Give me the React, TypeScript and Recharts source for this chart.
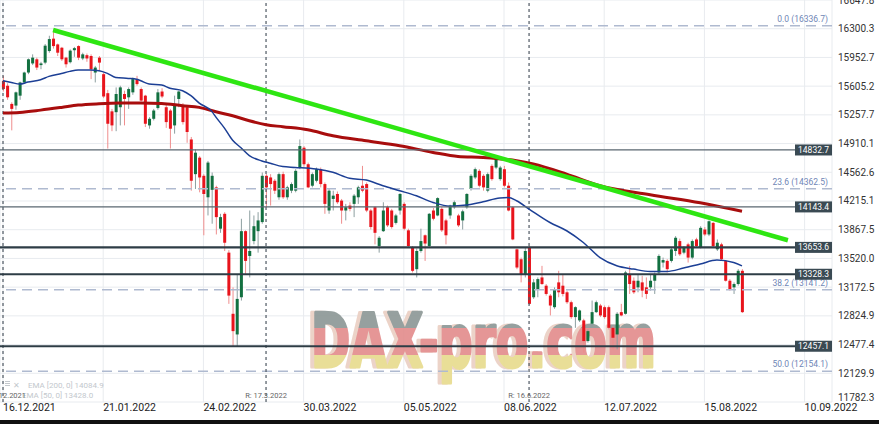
import React from 'react';
import { ComposedChart, Bar, Line, XAxis, YAxis, CartesianGrid, ReferenceLine, Customized } from 'recharts';

// ---- candles (trading-day index 0 = 16.12.2021) ----
const opens = [
  15670, 15610, 15390, 15370, 15490, 15650, 15770, 15880, 15930, 15860,
  15890, 16030, 16180, 16110, 16070, 15950, 15895, 16040, 16090, 15940,
  15980, 15970, 15770, 15950, 15750, 15520, 15300, 15290, 15350, 15510,
  15470, 15530, 15690, 15570, 15490, 15130, 15210, 15340, 15540, 15350,
  15310, 15130, 15450, 15370, 15350, 14960, 14540, 14740, 14520, 14260,
  14350, 14380, 13880, 14060, 13590, 12850, 12600, 13050, 13850, 13550,
  13730, 13850, 13960, 14520, 14500, 14460, 14260, 14540, 14260, 14340,
  14340, 14620, 14860, 14660, 14400, 14460, 14600, 14420, 14100, 14240,
  14300, 14220, 14100, 14160, 14180, 14260, 14400, 14420, 14100, 14140,
  13670, 13850, 14140, 14100, 13950, 14100, 14180, 13860, 13650, 13390,
  13610, 13800, 13670, 14100, 14040, 14120, 13980, 14040, 14140, 14040,
  13980, 14140, 14360, 14500, 14580, 14520, 14340, 14640, 14620, 14480,
  14600, 14400, 14140, 13630, 13510, 13330, 13650, 13050, 13150, 13290,
  13190, 13070, 12930, 13230, 13190, 13110, 12990, 12810, 12770, 12770,
  12520, 12730, 12870, 12950, 12930, 12930, 12680, 12600, 12870, 12850,
  13330, 13250, 13170, 13230, 13170, 13170, 13250, 13350, 13470, 13490,
  13490, 13610, 13730, 13590, 13690, 13530, 13750, 13650, 13870, 13810,
  13950, 13630, 13690, 13490, 13250, 13170, 13210, 13370,
];
const highs = [
  15730, 15640, 15410, 15540, 15660, 15780, 15940, 15990, 15950, 15900,
  16115, 16215, 16290, 16120, 16080, 15960, 16050, 16080, 16100, 16010,
  16000, 15990, 15850, 15970, 15770, 15560, 15330, 15590, 15610, 15550,
  15590, 15710, 15730, 15590, 15500, 15230, 15330, 15570, 15580, 15380,
  15330, 15490, 15550, 15400, 15370, 14990, 14840, 14760, 14540, 14700,
  14560, 14400, 14060, 14080, 13620, 13170, 13330, 14000, 13860, 14100,
  14040, 14080, 14560, 14540, 14540, 14480, 14560, 14570, 14400, 14440,
  14600, 14960, 14880, 14680, 14560, 14620, 14620, 14440, 14360, 14340,
  14330, 14240, 14180, 14200, 14300, 14400, 14640, 14440, 14120, 14150,
  13790, 14200, 14160, 14120, 14060, 14310, 14200, 13880, 13670, 13640,
  13880, 13810, 14070, 14130, 14260, 14140, 14000, 14170, 14220, 14060,
  14110, 14310, 14540, 14620, 14600, 14540, 14560, 14660, 14770, 14640,
  14640, 14440, 14150, 13640, 13530, 13650, 13670, 13270, 13290, 13430,
  13210, 13090, 13170, 13370, 13330, 13130, 13010, 12940, 12900, 12790,
  12660, 13010, 13010, 12970, 12950, 12950, 12700, 12870, 12970, 13370,
  13430, 13290, 13330, 13310, 13290, 13330, 13350, 13570, 13530, 13510,
  13650, 13790, 13760, 13670, 13710, 13750, 13770, 13910, 13900, 13980,
  13960, 13750, 13710, 13500, 13270, 13230, 13390, 13390,
];
const lows = [
  15540, 15440, 15070, 15320, 15440, 15630, 15750, 15860, 15800, 15810,
  15870, 16010, 16060, 15970, 15910, 15830, 15880, 15960, 15920, 15920,
  15900, 15690, 15650, 15790, 15460, 14850, 15060, 15060, 15130, 15130,
  15330, 15500, 15610, 15420, 15110, 15090, 15190, 15320, 15460, 15100,
  14850, 15030, 15350, 15140, 14920, 14340, 14360, 14320, 13800, 14040,
  13940, 13810, 13830, 13610, 12970, 12460, 12460, 13010, 13330, 13290,
  13690, 13590, 13940, 14140, 14160, 14300, 14230, 14240, 14230, 14310,
  14320, 14600, 14630, 14370, 14380, 14440, 14380, 14060, 14060, 14100,
  14180, 13940, 13980, 14090, 14020, 14180, 14320, 14080, 13870, 13690,
  13590, 13840, 13900, 13880, 13930, 14050, 13860, 13650, 13350, 13290,
  13590, 13490, 13660, 13980, 14030, 13840, 13690, 14000, 14120, 13900,
  13870, 14120, 14340, 14480, 14380, 14340, 14320, 14460, 14600, 14460,
  14380, 14090, 13740, 13390, 13230, 13290, 12960, 13030, 13050, 13200,
  13070, 12830, 12910, 13050, 13060, 12970, 12790, 12680, 12750, 12380,
  12500, 12700, 12860, 12810, 12790, 12660, 12420, 12420, 12820, 12840,
  13090, 13090, 13110, 13050, 13030, 13130, 13090, 13330, 13410, 13350,
  13470, 13550, 13550, 13570, 13470, 13510, 13650, 13640, 13790, 13790,
  13650, 13610, 13490, 13240, 13130, 13090, 13190, 12860,
];
const closes = [
  15570, 15470, 15330, 15530, 15650, 15770, 15930, 15950, 15830, 15880,
  16095, 16175, 16090, 16010, 15930, 15870, 16035, 16065, 15950, 15990,
  15940, 15810, 15830, 15890, 15480, 15150, 15130, 15510, 15590, 15450,
  15570, 15690, 15630, 15430, 15150, 15210, 15310, 15530, 15480, 15170,
  15090, 15390, 15540, 15170, 15050, 14460, 14800, 14500, 14300, 14680,
  14520, 14020, 14020, 13710, 13070, 12640, 13030, 13850, 13490, 13610,
  13910, 13980, 14520, 14380, 14420, 14340, 14540, 14260, 14380, 14420,
  14580, 14880, 14660, 14380, 14540, 14600, 14420, 14180, 14340, 14280,
  14200, 14100, 14140, 14120, 14280, 14380, 14340, 14100, 13900, 13830,
  13770, 14100, 13920, 13900, 14040, 14300, 13880, 13670, 13370, 13610,
  13730, 13700, 14060, 14000, 14250, 13860, 13800, 14160, 14200, 13920,
  14090, 14300, 14520, 14600, 14400, 14380, 14540, 14480, 14760, 14620,
  14400, 14100, 13750, 13410, 13330, 13610, 12970, 13230, 13270, 13210,
  13090, 12950, 13150, 13110, 13090, 12990, 12810, 12930, 12890, 12520,
  12640, 12870, 12990, 12830, 12810, 12680, 12560, 12850, 12830, 13350,
  13210, 13110, 13250, 13130, 13090, 13250, 13330, 13550, 13500, 13390,
  13630, 13770, 13570, 13650, 13530, 13730, 13670, 13890, 13810, 13970,
  13670, 13710, 13510, 13250, 13150, 13210, 13370, 12870,
];

// ---- moving averages ----
const ema50Index = [0, 2, 4, 6, 9, 11, 14, 16, 18, 21, 23, 25, 27, 30, 32, 33, 35, 38, 40, 43, 45, 47, 50, 51, 53, 55, 57, 59, 62, 64, 67, 70, 75, 79, 83, 87, 91, 95, 99, 103, 107, 111, 115, 119, 121, 123, 126, 131, 135, 139, 143, 147, 151, 155, 159, 163, 167, 171, 175, 177];
const ema50Values = [15671, 15650, 15630, 15655, 15683, 15723, 15759, 15784, 15800, 15800, 15792, 15760, 15711, 15699, 15688, 15670, 15630, 15618, 15580, 15550, 15490, 15400, 15300, 15230, 15100, 14950, 14860, 14765, 14700, 14672, 14632, 14622, 14602, 14562, 14490, 14468, 14400, 14340, 14278, 14198, 14152, 14166, 14206, 14251, 14256, 14218, 14118, 13955, 13855, 13713, 13530, 13431, 13391, 13362, 13362, 13403, 13452, 13500, 13470, 13430];
const ema200Index = [0, 4, 9, 14, 18, 23, 28, 33, 38, 43, 47, 51, 55, 59, 63, 67, 73, 79, 87, 95, 103, 109, 115, 123, 127, 135, 143, 155, 167, 177];
const ema200Values = [15279, 15287, 15315, 15348, 15376, 15392, 15400, 15400, 15396, 15368, 15348, 15295, 15247, 15186, 15138, 15114, 15077, 15005, 14944, 14884, 14803, 14754, 14742, 14702, 14662, 14540, 14400, 14290, 14193, 14090];

// ---- axes ----
const tickIndex = [0, 24, 48, 72, 96, 120, 144, 168, 192];
const tickLabels = ['16.12.2021', '21.01.2022', '24.02.2022', '30.03.2022', '05.05.2022', '08.06.2022', '12.07.2022', '15.08.2022', '10.09.2022'];
const yTicks = [16647.8, 16300.3, 15952.7, 15605.2, 15257.7, 14910.1, 14562.6, 14215.1, 13867.5, 13520.0, 13172.5, 12824.9, 12477.4, 12129.9, 11782.3];
const xDomain = [-0.72, 198.56];

// ---- annotations ----
const levelValues = [14832.7, 14143.4, 13653.6, 13328.3, 12457.1];
const levelStrong = [false, false, true, true, true];
const fibValues = [16336.7, 14362.5, 13141.2, 12154.1];
const fibLabels = ['0.0 (16336.7)', '23.6 (14362.5)', '38.2 (13141.2)', '50.0 (12154.1)'];
const markerIndex = [0, 63, 126];
const markerLabels = ['R: 16.12.2021', 'R: 17.3.2022', 'R: 16.6.2022'];
const trendIndex = [12, 188];
const trendValues = [16285, 13740];
const legendLabels = ['EMA [200, 0] 14084.9', 'EMA [50, 0] 13428.0'];
const watermarkText = 'DAX-pro.com';

const candles = opens.map((o, i) => ({ i, open: o, high: highs[i], low: lows[i], close: closes[i] }));
const ema50Data = ema50Index.map((i, k) => ({ i, v: ema50Values[k] }));
const ema200Data = ema200Index.map((i, k) => ({ i, v: ema200Values[k] }));

const FONT = 'Roboto, "Noto Sans", "DejaVu Sans", sans-serif';
const WM_FONT = '"Liberation Sans Narrow", "DejaVu Sans Condensed", "Liberation Sans", sans-serif';
const UP = '#127040';
const DOWN = '#e8141c';
const WICK_UP = '#8d9fa0';
const WICK_DOWN = '#ef8d8d';

function Candle(props: any) {
  const { x, y, width, height, payload } = props;
  if (x == null || y == null || !payload) return null;
  const { open, high, low, close } = payload;
  const top = Math.min(y, y + height);
  const h = Math.abs(height);
  const k = high > low ? h / (high - low) : 0;
  const cx = x + width / 2;
  const yO = top + (high - open) * k;
  const yC = top + (high - close) * k;
  const up = close >= open;
  const bTop = Math.min(yO, yC);
  const bH = Math.max(1, Math.abs(yC - yO));
  return (
    <g>
      <line x1={cx} x2={cx} y1={top} y2={top + h} stroke={up ? WICK_UP : WICK_DOWN} strokeWidth={1} />
      <rect x={cx - 1.5} y={bTop} width={3} height={bH} fill={up ? UP : DOWN} />
    </g>
  );
}

function YTick(props: any) {
  const { x, y, payload } = props;
  const isLast = payload.value === yTicks[yTicks.length - 1];
  return (
    <text x={x} y={y + (isLast ? -5 : 0)} dy="0.35em" textAnchor="start" fontSize={10} fill="#333" fontFamily={FONT}>
      {Number(payload.value).toFixed(1)}
    </text>
  );
}

function XTick(props: any) {
  const { x, y, payload } = props;
  const idx = tickIndex.indexOf(payload.value);
  return (
    <text x={x} y={y + 8.5} textAnchor="start" fontSize={10.5} fill="#222" fontFamily={FONT}>
      {tickLabels[idx]}
    </text>
  );
}

function LevelLabel(props: any) {
  const { viewBox, text } = props;
  if (!viewBox) return null;
  const right = viewBox.x + viewBox.width;
  const y = viewBox.y;
  return (
    <g>
      <rect x={right - 37} y={y - 5.5} width={37} height={11} fill="#3a4a53" />
      <text x={right - 18.5} y={y} dy="0.35em" textAnchor="middle" fontSize={8.5} fill="#ffffff" fontFamily={FONT}>{text}</text>
    </g>
  );
}

function FibLabel(props: any) {
  const { viewBox, text } = props;
  if (!viewBox) return null;
  const right = viewBox.x + viewBox.width;
  return (
    <text x={right - 4} y={viewBox.y - 4} textAnchor="end" fontSize={8.5} fill="#6f86b6" fontFamily={FONT}>{text}</text>
  );
}

function MarkerLabel(props: any) {
  const { viewBox, text } = props;
  if (!viewBox) return null;
  return (
    <text x={viewBox.x} y={viewBox.y + viewBox.height - 4} textAnchor="middle" fontSize={7.5} fill="#666" fontFamily={FONT}>{text}</text>
  );
}

function Overlay() {
  return (
    <g>
      <defs>
        <linearGradient id="flagGrad" gradientUnits="userSpaceOnUse" x1="0" y1="313" x2="0" y2="367">
          <stop offset="0" stopColor="#8e9997" />
          <stop offset="0.28" stopColor="#8e9997" />
          <stop offset="0.28" stopColor="#e38e8e" />
          <stop offset="0.78" stopColor="#e38e8e" />
          <stop offset="0.78" stopColor="#e8dc8f" />
          <stop offset="1" stopColor="#e8dc8f" />
        </linearGradient>
      </defs>
      <g opacity={0.92}>
        <text x={307} y={367} fontSize={74} fontWeight="bold" fontFamily={WM_FONT} textLength={345} lengthAdjust="spacingAndGlyphs" fill="#ebd0c4" stroke="#ebd0c4" strokeWidth={3} strokeLinejoin="round">{watermarkText}</text>
        <text x={311} y={367} fontSize={74} fontWeight="bold" fontFamily={WM_FONT} textLength={345} lengthAdjust="spacingAndGlyphs" fill="url(#flagGrad)" stroke="url(#flagGrad)" strokeWidth={3} strokeLinejoin="round">{watermarkText}</text>
      </g>
      <g fill="#c3c8cd" fontFamily={FONT} fontSize={8}>
        <rect x={5} y={381} width={5} height={1} />
        <rect x={5} y={383} width={5} height={1} />
        <rect x={5} y={385} width={5} height={1} />
        <text x={13} y={388} fontSize={8}>✕</text>
        <text x={28} y={388}>{legendLabels[0]}</text>
        <text x={22} y={398}>{legendLabels[1]}</text>
      </g>
      <rect x={0} y={420} width={879} height={4} fill="#111" />
    </g>
  );
}

export default function App() {
  return (
    <div style={{ position: 'absolute', left: 0, top: 0, width: 879, height: 424, background: '#fff', fontFamily: FONT }}>
      <ComposedChart width={879} height={424} data={candles} margin={{ top: 0, right: 0, bottom: 0, left: 0 }}>
        <CartesianGrid stroke="#e8ebef" strokeWidth={1} />
        <XAxis
          dataKey="i"
          type="number"
          domain={xDomain}
          allowDataOverflow
          ticks={tickIndex}
          interval={0}
          axisLine={false}
          tickLine={false}
          tickSize={0}
          tickMargin={0}
          height={22}
          tick={<XTick />}
        />
        <YAxis
          orientation="right"
          type="number"
          domain={[yTicks[yTicks.length - 1], yTicks[0]]}
          allowDataOverflow
          ticks={yTicks}
          interval={0}
          axisLine={false}
          tickLine={false}
          tickSize={0}
          tickMargin={6}
          width={47}
          tick={<YTick />}
        />
        {fibValues.map((v, k) => (
          <ReferenceLine key={'f' + k} y={v} stroke="#afbad0" strokeWidth={1.5} strokeDasharray="10 6" label={<FibLabel text={fibLabels[k]} />} />
        ))}
        {markerIndex.map((m, k) => (
          <ReferenceLine key={'m' + k} x={m} stroke="#4f5963" strokeWidth={1.2} strokeDasharray="3 3" label={<MarkerLabel text={markerLabels[k]} />} />
        ))}
        <Bar dataKey={(d: any) => [d.low, d.high]} barSize={3} shape={<Candle />} isAnimationActive={false} />
        <Line data={ema200Data} dataKey="v" type="monotone" stroke="#a80d0d" strokeWidth={3} dot={false} activeDot={false} isAnimationActive={false} />
        <Line data={ema50Data} dataKey="v" type="monotone" stroke="#1c3f95" strokeWidth={1.5} dot={false} activeDot={false} isAnimationActive={false} />
        <Customized component={Overlay} />
        {levelValues.map((v, k) => (
          <ReferenceLine key={'l' + k} y={v} stroke={levelStrong[k] ? '#2e3d46' : '#5a6770'} strokeWidth={levelStrong[k] ? 2.2 : 1.3} label={<LevelLabel text={v.toFixed(1)} />} />
        ))}
        <ReferenceLine
          segment={[{ x: trendIndex[0], y: trendValues[0] }, { x: trendIndex[1], y: trendValues[1] }]}
          stroke="#2ee612"
          strokeWidth={4.5}
        />
      </ComposedChart>
    </div>
  );
}
